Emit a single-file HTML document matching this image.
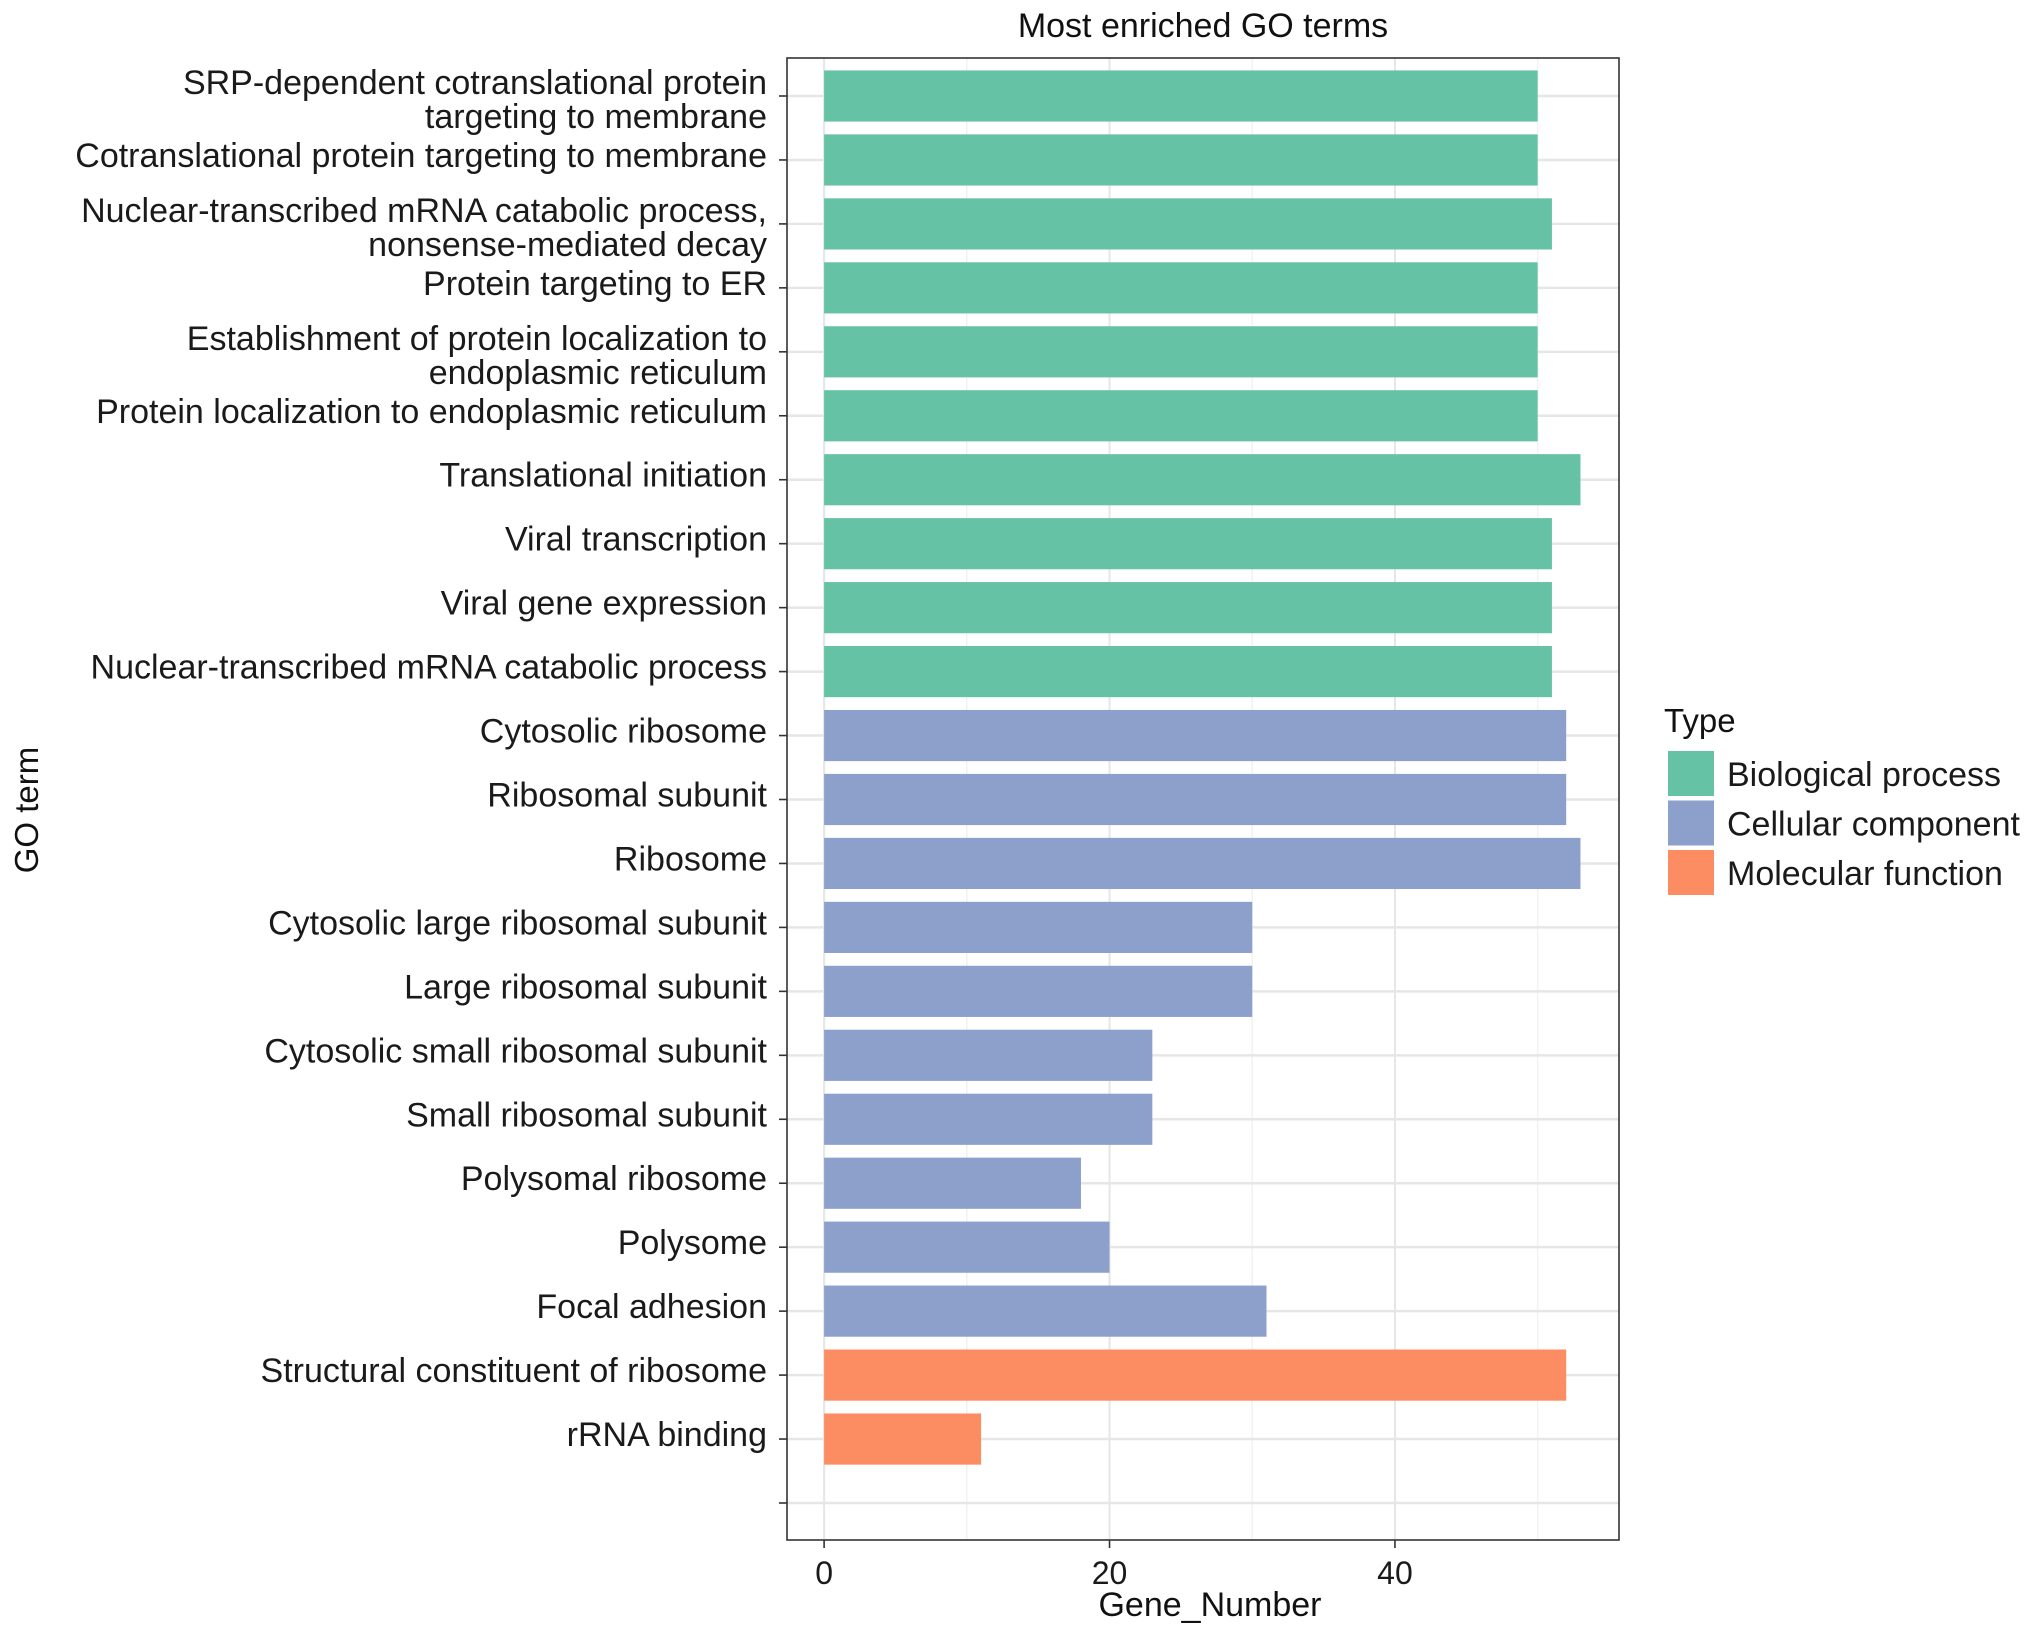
<!DOCTYPE html>
<html><head><meta charset="utf-8"><style>
html,body{margin:0;padding:0;background:#fff;}
svg{display:block;font-family:"Liberation Sans",Arial,sans-serif;}
</style></head><body>
<svg id="chart" width="2032" height="1633" viewBox="0 0 2032 1633">
<text x="1203" y="37" font-size="34" text-anchor="middle" fill="#111">Most enriched GO terms</text>
<g id="grid"></g>
<g id="bars"></g>
<rect x="787" y="58" width="832" height="1482" fill="none" stroke="#333" stroke-width="1.6"/>
<g id="yaxis"></g>
<g id="xaxis"></g>
<text x="1210" y="1616" font-size="34" text-anchor="middle" fill="#111">Gene_Number</text>
<text transform="translate(38,810) rotate(-90)" font-size="33" text-anchor="middle" fill="#111">GO term</text>
<g id="legend">
<text x="1664" y="732" font-size="33" fill="#111">Type</text>
</g>
</svg>
<script>
const categories = [
 ["SRP-dependent cotranslational protein","targeting to membrane"],
 ["Cotranslational protein targeting to membrane"],
 ["Nuclear-transcribed mRNA catabolic process,","nonsense-mediated decay"],
 ["Protein targeting to ER"],
 ["Establishment of protein localization to","endoplasmic reticulum"],
 ["Protein localization to endoplasmic reticulum"],
 ["Translational initiation"],
 ["Viral transcription"],
 ["Viral gene expression"],
 ["Nuclear-transcribed mRNA catabolic process"],
 ["Cytosolic ribosome"],
 ["Ribosomal subunit"],
 ["Ribosome"],
 ["Cytosolic large ribosomal subunit"],
 ["Large ribosomal subunit"],
 ["Cytosolic small ribosomal subunit"],
 ["Small ribosomal subunit"],
 ["Polysomal ribosome"],
 ["Polysome"],
 ["Focal adhesion"],
 ["Structural constituent of ribosome"],
 ["rRNA binding"]
];
const geneNumbers = [50,50,51,50,50,50,53,51,51,51,52,52,53,30,30,23,23,18,20,31,52,11];
const types = [0,0,0,0,0,0,0,0,0,0,1,1,1,1,1,1,1,1,1,1,2,2];
const typeNames = ["Biological process","Cellular component","Molecular function"];
const xTicks = [0,20,40];
const xMinor = [10,30,50];

const colors = ["#66c2a5","#8da0cb","#fc8d62"];
const NS="http://www.w3.org/2000/svg";
const panel={l:787,r:1619,t:58,b:1540};
const xmin=-2.6, xmax=55.7;
const nSlots = categories.length + 1;
const y0=96, step=(1503-96)/(nSlots-1);
function xs(v){return panel.l+(v-xmin)/(xmax-xmin)*(panel.r-panel.l);}
function ys(i){return y0+i*step;}
function el(tag,attrs,parent){const e=document.createElementNS(NS,tag);for(const k in attrs)e.setAttribute(k,attrs[k]);parent.appendChild(e);return e;}
const grid=document.getElementById('grid'),bars=document.getElementById('bars'),yaxis=document.getElementById('yaxis'),xaxis=document.getElementById('xaxis'),legend=document.getElementById('legend');
el('rect',{x:panel.l,y:panel.t,width:panel.r-panel.l,height:panel.b-panel.t,fill:'#fff'},grid);
xMinor.forEach(v=>{const l=el('line',{x1:xs(v),x2:xs(v),y1:panel.t,y2:panel.b,stroke:'#f2f2f2','stroke-width':1.5},grid);

});
xTicks.forEach(v=>{const l=el('line',{x1:xs(v),x2:xs(v),y1:panel.t,y2:panel.b,stroke:'#e6e6e6','stroke-width':2},grid);

});
for(let i=0;i<nSlots;i++){const l=el('line',{x1:panel.l,x2:panel.r,y1:ys(i),y2:ys(i),stroke:'#e6e6e6','stroke-width':2.5},grid);


const t=el('line',{x1:panel.l-8,x2:panel.l,y1:ys(i),y2:ys(i),stroke:'#333','stroke-width':1.6},yaxis);

}
const bh=step*0.8;
geneNumbers.forEach((v,i)=>{const r=el('rect',{x:xs(0),y:ys(i)-bh/2,width:xs(v)-xs(0),height:bh,fill:colors[types[i]]},bars);

});
categories.forEach((lines,i)=>{const n=lines.length;lines.forEach((s,j)=>{
const base = n===1 ? ys(i)+7 : ys(i)+(j-(n-1)/2)*34+15;
const t=el('text',{x:767,y:base,'font-size':34,'text-anchor':'end',fill:'#1a1a1a'},yaxis);t.textContent=s;

});});
xTicks.forEach(v=>{const t=el('line',{x1:xs(v),x2:xs(v),y1:panel.b,y2:panel.b+8,stroke:'#333','stroke-width':1.6},xaxis);


const l=el('text',{x:xs(v),y:1584,'font-size':32,'text-anchor':'middle',fill:'#1a1a1a'},xaxis);l.textContent=v;

});
typeNames.forEach((n,k)=>{const top=751+k*49.5;
const r=el('rect',{x:1668,y:top,width:46,height:45,fill:colors[k]},legend);


const t=el('text',{x:1727,y:top+35,'font-size':34,fill:'#1a1a1a'},legend);t.textContent=n;

});
</script>
</body></html>
